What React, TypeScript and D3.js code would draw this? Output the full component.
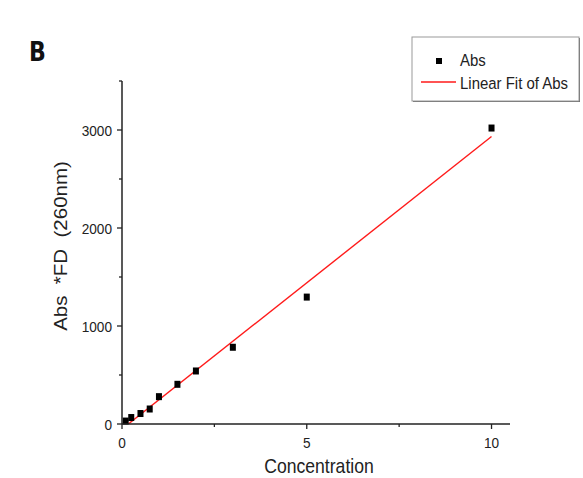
import React from "react";
import * as d3 from "d3";

// Concentration vs. absorbance (× dilution factor) at 260 nm
const concentration = [0.1, 0.25, 0.5, 0.75, 1, 1.5, 2, 3, 5, 10];
const absFD = [30, 66, 107, 153, 279, 405, 541, 783, 1295, 3020];

const xTicks = [0, 5, 10];
const xMinorTicks = [2.5, 7.5];
const yTicks = [0, 1000, 2000, 3000];
const yMinorTicks = [500, 1500, 2500, 3500];

const legendLabels = ["Abs", "Linear Fit of Abs"];
const panelLabel = "B";
const xTitle = "Concentration";
const yTitle = "Abs  *FD  (260nm)";

const W = 583;
const H = 478;
const margin = { left: 122, right: 73, top: 81, bottom: 54 };

const FONT = "'Liberation Sans', Arial, sans-serif";
const SX = 0.88; // horizontal squeeze applied to lettering

export default function App() {
  const x = d3
    .scaleLinear()
    .domain([0, 10.5])
    .range([margin.left, W - margin.right]);
  const y = d3
    .scaleLinear()
    .domain([0, 3500])
    .range([H - margin.bottom, margin.top]);

  // least-squares linear fit
  const mx = d3.mean(concentration)!;
  const my = d3.mean(absFD)!;
  const sxy = d3.sum(concentration, (c, i) => (c - mx) * (absFD[i] - my));
  const sxx = d3.sum(concentration, (c) => (c - mx) ** 2);
  const slope = sxy / sxx;
  const intercept = my - slope * mx;
  const [xMin, xMax] = d3.extent(concentration) as [number, number];
  const fitLine = d3
    .line<number>()
    .x((c) => x(c))
    .y((c) => y(slope * c + intercept))([xMin, xMax]);

  const x0 = x(0);
  const y0 = y(0);
  const axisColor = "#222";
  const textColor = "#222";

  return (
    <svg width={W} height={H} style={{ display: "block", position: "absolute", left: 0, top: 0 }}>
      <defs>
        <clipPath id="plot-area">
          <rect x={x0} y={y(3500)} width={x(10.5) - x0} height={y0 - y(3500)} />
        </clipPath>
      </defs>
      <rect width={W} height={H} fill="#fff" />

      {/* panel letter */}
      <text
        transform={`translate(29,61) scale(0.85,1)`}
        fontFamily="'DejaVu Sans', sans-serif"
        fontWeight="bold"
        fontSize={26}
        fill="#111"
      >
        {panelLabel}
      </text>

      {/* fit line */}
      <path d={fitLine!} stroke="#ff1a1a" strokeWidth={1.4} fill="none" clipPath="url(#plot-area)" />

      {/* data points */}
      {concentration.map((c, i) => (
        <rect key={i} x={x(c) - 3} y={y(absFD[i]) - 3.5} width={6} height={7} fill="#000" />
      ))}

      {/* axes */}
      <line x1={x0} x2={x(10.5)} y1={y0} y2={y0} stroke={axisColor} strokeWidth={1.5} />
      <line x1={x0} x2={x0} y1={y0} y2={y(3500)} stroke={axisColor} strokeWidth={1.5} />

      {xTicks.map((t) => (
        <g key={t}>
          <line x1={x(t)} x2={x(t)} y1={y0} y2={y0 + 5} stroke={axisColor} strokeWidth={1.3} />
          <text
            transform={`translate(${x(t)},448) scale(${SX},1)`}
            textAnchor="middle"
            fontFamily={FONT}
            fontSize={15.5}
            fill={textColor}
          >
            {t}
          </text>
        </g>
      ))}
      {xMinorTicks.map((t) => (
        <line key={t} x1={x(t)} x2={x(t)} y1={y0} y2={y0 + 3} stroke={axisColor} strokeWidth={1.3} />
      ))}

      {yTicks.map((t) => (
        <g key={t}>
          <line x1={x0 - 5} x2={x0} y1={y(t)} y2={y(t)} stroke={axisColor} strokeWidth={1.3} />
          <text
            transform={`translate(112,${y(t) + 5.6}) scale(${SX},1)`}
            textAnchor="end"
            fontFamily={FONT}
            fontSize={15.5}
            fill={textColor}
          >
            {t}
          </text>
        </g>
      ))}
      {yMinorTicks.map((t) => (
        <line key={t} x1={x0 - 3} x2={x0} y1={y(t)} y2={y(t)} stroke={axisColor} strokeWidth={1.3} />
      ))}

      {/* axis titles */}
      <text
        transform={`translate(${(x0 + x(10.5)) / 2 + 3},473) scale(${SX},1)`}
        textAnchor="middle"
        fontFamily={FONT}
        fontSize={20}
        fill={textColor}
      >
        {xTitle}
      </text>
      <text
        transform={`translate(67,246) rotate(-90) scale(1,${SX})`}
        textAnchor="middle"
        fontFamily={FONT}
        fontSize={20.5}
        fill={textColor}
        style={{ whiteSpace: "pre" }}
      >
        {yTitle}
      </text>

      {/* legend */}
      <g>
        <rect x={413} y={38} width={167} height={64} fill="#666" />
        <rect x={412} y={37} width={167} height={64} fill="#fff" stroke="#999" strokeWidth={1} />
        <rect x={436} y={58} width={6} height={6} fill="#000" />
        <line x1={421} x2={456} y1={82} y2={82} stroke="#ff1a1a" strokeWidth={1.4} />
        <text
          transform={`translate(460,66) scale(${SX},1)`}
          fontFamily={FONT}
          fontSize={17}
          fill={textColor}
        >
          {legendLabels[0]}
        </text>
        <text
          transform={`translate(460,88.5) scale(${SX},1)`}
          fontFamily={FONT}
          fontSize={17}
          fill={textColor}
        >
          {legendLabels[1]}
        </text>
      </g>
    </svg>
  );
}
